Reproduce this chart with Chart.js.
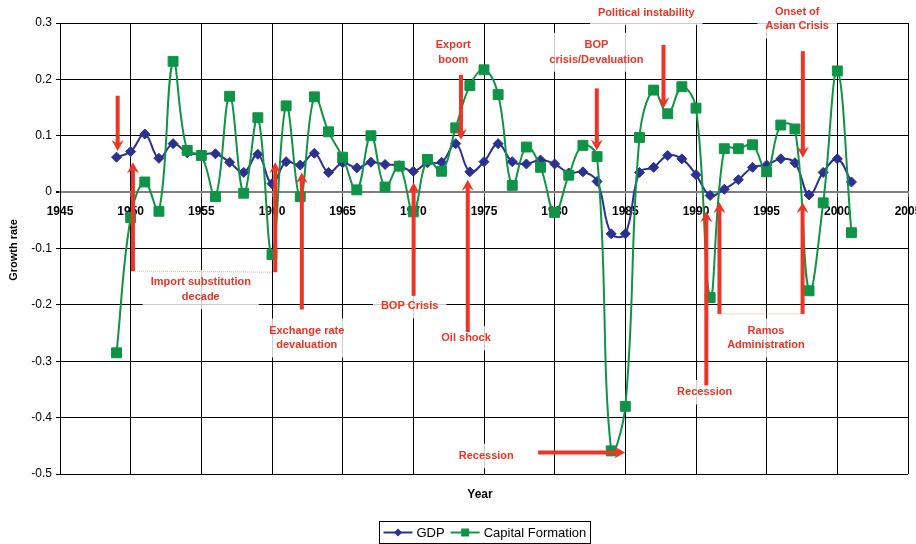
<!DOCTYPE html>
<html><head><meta charset="utf-8">
<script src="https://cdn.jsdelivr.net/npm/chart.js@4.4.1/dist/chart.umd.min.js"></script>
<style>html,body{margin:0;padding:0;background:#fff;}#wrap{width:916px;height:544px;position:relative;}</style>
</head><body><div id="wrap"><canvas id="c" width="916" height="544"></canvas></div>
<script>
// ---- data ----
const years = [1949,1950,1951,1952,1953,1954,1955,1956,1957,1958,
  1959,1960,1961,1962,1963,1964,1965,1966,1967,1968,
  1969,1970,1971,1972,1973,1974,1975,1976,1977,1978,
  1979,1980,1981,1982,1983,1984,1985,1986,1987,1988,
  1989,1990,1991,1992,1993,1994,1995,1996,1997,1998,
  1999,2000,2001];
const gdp = [0.062,0.072,0.103,0.060,0.086,0.070,0.067,0.068,0.053,0.035,
  0.067,0.015,0.054,0.048,0.069,0.035,0.052,0.043,0.053,0.049,
  0.047,0.037,0.052,0.053,0.086,0.036,0.054,0.086,0.054,0.050,
  0.057,0.050,0.034,0.036,0.019,-0.074,-0.074,0.035,0.044,0.065,
  0.059,0.031,-0.006,0.005,0.022,0.044,0.048,0.059,0.052,-0.005,
  0.035,0.059,0.018];
const capitalFormation = [-0.285,-0.045,0.018,-0.034,0.232,0.074,0.065,-0.008,0.170,-0.002,
  0.132,-0.111,0.153,-0.008,0.169,0.107,0.062,0.004,0.100,0.009,
  0.046,-0.035,0.058,0.037,0.114,0.189,0.217,0.173,0.012,0.080,
  0.044,-0.036,0.030,0.083,0.063,-0.459,-0.380,0.097,0.181,0.139,
  0.187,0.149,-0.187,0.077,0.077,0.084,0.036,0.119,0.112,-0.175,
  -0.019,0.215,-0.072];
const seriesNames = ['GDP','Capital Formation'];
const xTickLabels = [1945,1950,1955,1960,1965,1970,1975,1980,1985,1990,1995,2000,2005];
const yTickLabels = [0.3,0.2,0.1,0,-0.1,-0.2,-0.3,-0.4,-0.5];
const xTitle = 'Year';
const yTitle = 'Growth rate';

// ---- annotations (in data coordinates: [year, growth rate]) ----
const noteTexts = [
  ['Import substitution','decade'],
  ['Exchange rate','devaluation'],
  ['BOP Crisis'],
  ['Oil shock'],
  ['Export','boom'],
  ['BOP','crisis/Devaluation'],
  ['Political instability'],
  ['Onset of','Asian Crisis'],
  ['Recession'],
  ['Recession'],
  ['Ramos','Administration']
];
const noteAnchors = [
  [1954.96,-0.160],[1962.46,-0.246],[1969.74,-0.202],[1973.73,-0.259],
  [1972.82,0.261],[1982.95,0.261],[1986.48,0.318],[1997.16,0.320],
  [1975.16,-0.468],[1990.61,-0.355],[1994.95,-0.246]
];
const arrowFrom = [
  [1949.08,0.171],[1950.16,-0.140],[1960.23,-0.142],[1962.11,-0.208],
  [1970.02,-0.184],[1973.85,-0.248],[1973.37,0.208],[1982.98,0.184],
  [1987.70,0.261],[1997.56,0.250],[1978.83,-0.462],[1990.73,-0.343],
  [1991.66,-0.216],[1997.54,-0.216]
];
const arrowTo = [
  [1949.08,0.073],[1950.16,0.053],[1960.23,0.053],[1962.11,0.035],
  [1970.02,0.017],[1973.85,0.022],[1973.37,0.093],[1982.98,0.074],
  [1987.70,0.149],[1997.56,0.061],[1984.99,-0.462],[1990.73,-0.034],
  [1991.66,-0.018],[1997.54,-0.018]
];
const bracketFrom = [[1950.16,-0.140],[1991.66,-0.216]];
const bracketTo = [[1960.23,-0.142],[1997.54,-0.216]];

const NAVY = '#2b3190';
const GREEN = '#0f9447';
const RED = '#ee3424';
const FONT = '"Liberation Sans", Arial, sans-serif';

function fmtY(v){ const r = Math.round(v*10)/10; return r === 0 ? '0' : String(r); }

const annotPlugin = {
  id: 'annot',
  beforeDatasetsDraw(chart){
    const {ctx, scales:{x, y}} = chart;
    ctx.save();
    ctx.font = 'bold 11px ' + FONT;
    noteTexts.forEach((lines, i) => {
      const cx = x.getPixelForValue(noteAnchors[i][0]);
      const cy = y.getPixelForValue(noteAnchors[i][1]);
      const w = Math.max(...lines.map(t => ctx.measureText(t).width));
      const h = lines.length * 14.5;
      ctx.fillStyle = 'rgba(255,255,255,0.8)';
      ctx.fillRect(cx - w/2 - 8, cy - 7.25 - 5, w + 16, h + 10);
    });
    ctx.restore();
  },
  afterDatasetsDraw(chart){
    const {ctx, scales:{x, y}} = chart;
    ctx.save();
    // brackets
    ctx.strokeStyle = '#f5a59d';
    ctx.lineWidth = 1;
    ctx.setLineDash([1,1]);
    bracketFrom.forEach((f, i) => {
      const t = bracketTo[i];
      ctx.beginPath();
      ctx.moveTo(x.getPixelForValue(f[0]), y.getPixelForValue(f[1]));
      ctx.lineTo(x.getPixelForValue(t[0]), y.getPixelForValue(t[1]));
      ctx.stroke();
    });
    ctx.setLineDash([]);
    // arrows
    arrowFrom.forEach((f, i) => {
      const t = arrowTo[i];
      const x1 = x.getPixelForValue(f[0]), y1 = y.getPixelForValue(f[1]);
      const x2 = x.getPixelForValue(t[0]), y2 = y.getPixelForValue(t[1]);
      const dx = x2 - x1, dy = y2 - y1, len = Math.hypot(dx, dy);
      const ux = dx/len, uy = dy/len, px = -uy, py = ux;
      const L = 11, W = 6, N = 4;
      ctx.strokeStyle = RED; ctx.fillStyle = RED;
      ctx.lineWidth = 4;
      ctx.beginPath();
      ctx.moveTo(x1, y1);
      ctx.lineTo(x2 - ux*(L-N), y2 - uy*(L-N));
      ctx.stroke();
      ctx.beginPath();
      ctx.moveTo(x2, y2);
      ctx.lineTo(x2 - ux*L + px*W, y2 - uy*L + py*W);
      ctx.lineTo(x2 - ux*(L-N), y2 - uy*(L-N));
      ctx.lineTo(x2 - ux*L - px*W, y2 - uy*L - py*W);
      ctx.closePath();
      ctx.fill();
    });
    // texts
    ctx.font = 'bold 11px ' + FONT;
    ctx.fillStyle = RED;
    ctx.textAlign = 'center';
    ctx.textBaseline = 'middle';
    noteTexts.forEach((lines, i) => {
      const cx = x.getPixelForValue(noteAnchors[i][0]);
      const cy = y.getPixelForValue(noteAnchors[i][1]);
      lines.forEach((t, k) => ctx.fillText(t, cx, cy + k*14.5));
    });
    ctx.restore();
  },
  afterDraw(chart){
    const {ctx, chartArea} = chart;
    ctx.save();
    // axis titles
    ctx.fillStyle = '#000';
    ctx.textAlign = 'center';
    ctx.textBaseline = 'middle';
    ctx.font = 'bold 12px ' + FONT;
    ctx.fillText(xTitle, (chartArea.left + chartArea.right)/2 - 4, 495);
    ctx.save();
    ctx.translate(14, 250);
    ctx.rotate(-Math.PI/2);
    ctx.font = 'bold 11px ' + FONT;
    ctx.fillText(yTitle, 0, 0);
    ctx.restore();
    // legend
    ctx.font = '13px ' + FONT;
    const colors = [NAVY, GREEN];
    const lineW = 29, gap1 = 4, gap2 = 6;
    let total = 0;
    const tw = seriesNames.map(s => ctx.measureText(s).width);
    tw.forEach((w, i) => { total += lineW + gap1 + w + (i < tw.length-1 ? gap2 : 0); });
    const cxL = 484.5;
    const bx = Math.round(cxL - total/2 - 4) + 0.5;
    const by = 521.5, bh = 22, bw = Math.round(total + 8);
    ctx.strokeStyle = '#000'; ctx.lineWidth = 1;
    ctx.strokeRect(bx, by, bw, bh);
    let cur = bx + 4;
    const my = by + bh/2;
    seriesNames.forEach((s, i) => {
      ctx.strokeStyle = colors[i]; ctx.fillStyle = colors[i]; ctx.lineWidth = 2;
      ctx.beginPath(); ctx.moveTo(cur, my); ctx.lineTo(cur + lineW, my); ctx.stroke();
      const mx = cur + lineW/2;
      ctx.beginPath();
      if (i === 0) { ctx.moveTo(mx-4, my); ctx.lineTo(mx, my-4); ctx.lineTo(mx+4, my); ctx.lineTo(mx, my+4); ctx.closePath(); }
      else { ctx.rect(mx-4, my-4, 8, 8); }
      ctx.fill();
      cur += lineW + gap1;
      ctx.fillStyle = '#000'; ctx.textAlign = 'left';
      ctx.fillText(s, cur, my + 1);
      cur += tw[i] + gap2;
    });
    ctx.restore();
  }
};

const ctx = document.getElementById('c').getContext('2d');
new Chart(ctx, {
  type: 'line',
  data: {
    datasets: [
      {
        label: seriesNames[0],
        data: years.map((yr, i) => ({x: yr, y: gdp[i]})),
        borderColor: NAVY, backgroundColor: NAVY, borderWidth: 2,
        pointStyle: 'rectRot', pointRadius: 5, pointBorderWidth: 1,
        pointBackgroundColor: NAVY, pointBorderColor: NAVY,
        tension: 0.4, fill: false, order: 2
      },
      {
        label: seriesNames[1],
        data: years.map((yr, i) => ({x: yr, y: capitalFormation[i]})),
        borderColor: GREEN, backgroundColor: GREEN, borderWidth: 2,
        pointStyle: 'rect', pointRadius: 7, pointBorderWidth: 1,
        pointBackgroundColor: GREEN, pointBorderColor: GREEN,
        tension: 0.4, fill: false, order: 1
      }
    ]
  },
  options: {
    responsive: false, animation: false, devicePixelRatio: 1,
    layout: { padding: { top: 23, right: 4, bottom: 70, left: 0 } },
    plugins: { legend: { display: false }, tooltip: { enabled: false } },
    scales: {
      x: {
        type: 'linear', position: { y: 0 },
        min: xTickLabels[0], max: xTickLabels[xTickLabels.length-1],
        afterBuildTicks: (s) => { s.ticks = xTickLabels.map(v => ({value: v})); },
        afterFit: (s) => { s.paddingLeft = 0; s.paddingRight = 0; },
        ticks: {
          autoSkip: false, maxRotation: 0, padding: 8, color: '#000',
          font: { family: FONT, size: 12, weight: 'bold' },
          callback: (v) => String(v)
        },
        grid: { color: '#000', lineWidth: 1, tickLength: 4, tickColor: '#555' },
        border: { color: '#808080', width: 2 }
      },
      y: {
        type: 'linear', position: 'left',
        min: yTickLabels[yTickLabels.length-1], max: yTickLabels[0],
        afterBuildTicks: (s) => { s.ticks = yTickLabels.slice().reverse().map(v => ({value: v})); },
        afterFit: (s) => { s.width = 60; },
        ticks: {
          padding: 4, color: '#000',
          font: { family: FONT, size: 12 },
          callback: (v) => fmtY(v)
        },
        grid: {
          color: (c) => (c.tick && Math.abs(c.tick.value) < 1e-9) ? '#808080' : '#000',
          lineWidth: (c) => (c.tick && Math.abs(c.tick.value) < 1e-9) ? 2 : 1,
          tickLength: 4, tickColor: '#000'
        },
        border: { color: '#000', width: 1 }
      }
    }
  },
  plugins: [annotPlugin]
});
</script>
</body></html>
